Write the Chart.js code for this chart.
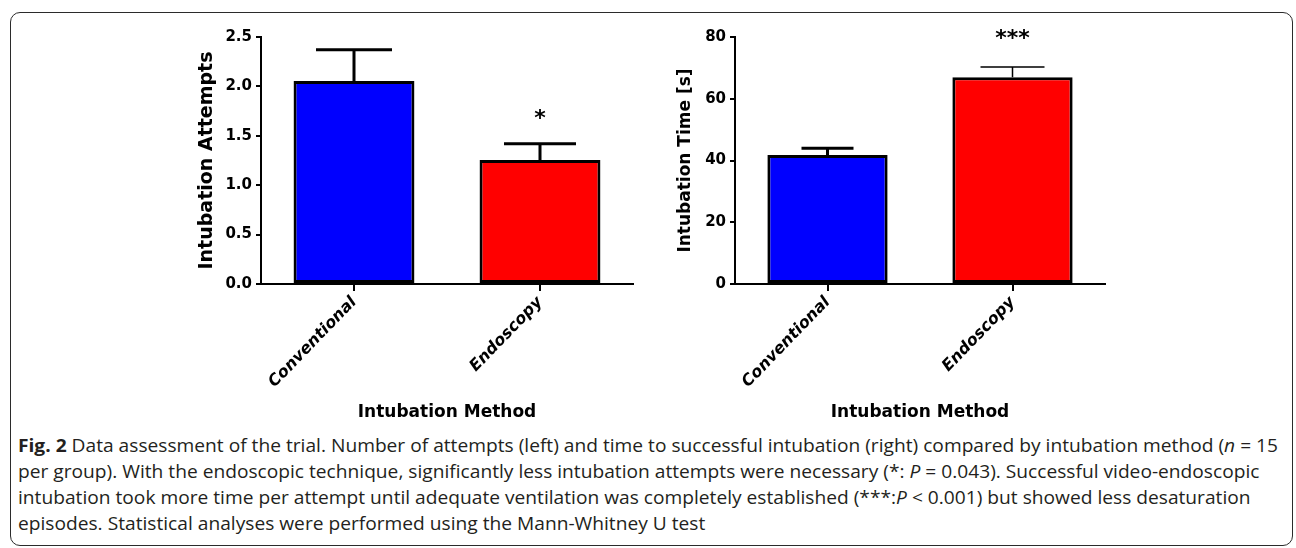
<!DOCTYPE html>
<html lang="en">
<head>
<meta charset="UTF-8">
<script src="https://cdn.jsdelivr.net/npm/chart.js"></script>
<title>Intubation method</title>
<style>
    body { margin: 0; width: 1296px; height: 548px; background: #fff; position: relative; overflow: hidden; }
    .frame { position: absolute; left: 10px; top: 12px; width: 1281px; height: 532px;
             border: 1.5px solid #2b2b2b; border-radius: 10px; }
    .panel { position: absolute; top: 20px; }
    #caption { position: absolute; left: 18px; top: 432px; font-family: 'Open Sans'; font-size: 18px;
               color: #231f20; line-height: 26px; transform-origin: 0 0; white-space: nowrap; }
</style>
</head>
<body>
<div class="frame"></div>
<canvas id="attemptsChart" class="panel" width="452" height="403" style="left:196px"></canvas>
<canvas id="timeChart" class="panel" width="445" height="403" style="left:675px"></canvas>

<div id="caption">
    <div id="capLine1"><b>Fig. 2</b> Data assessment of the trial. Number of attempts (left) and time to successful intubation (right) compared by intubation method (<i>n</i> = 15</div>
    <div>per group). With the endoscopic technique, significantly less intubation attempts were necessary (*: <i>P</i> = 0.043). Successful video-endoscopic</div>
    <div>intubation took more time per attempt until adequate ventilation was completely established (***:<i>P</i> &lt; 0.001) but showed less desaturation</div>
    <div>episodes. Statistical analyses were performed using the Mann-Whitney U test</div>
</div>

<script>
    // data
    const categories = ['Conventional', 'Endoscopy'];
    const attemptsMean = [2.055, 1.255];
    const attemptsSem = [0.315, 0.165];
    const attemptsTicks = [0, 0.5, 1.0, 1.5, 2.0, 2.5];
    const attemptsStars = ['', '*'];

    const timeMean = [41.8, 67.0];
    const timeSem = [2.2, 3.3];
    const timeTicks = [0, 20, 40, 60, 80];
    const timeStars = ['', '***'];

    const barColors = ['#0000ff', '#ff0000'];

    // error bars (upper only) + significance stars
    const errorBars = {
        id: 'errorBars',
        afterDatasetsDraw(chart, args, opts) {
            const ctx = chart.ctx;
            const yScale = chart.scales.y;
            const meta = chart.getDatasetMeta(0);
            ctx.save();
            ctx.strokeStyle = '#000';
            ctx.fillStyle = '#000';
            meta.data.forEach((bar, i) => {
                const top = yScale.getPixelForValue(opts.means[i] + opts.errs[i]);
                ctx.lineWidth = opts.lineWidths[i];
                ctx.beginPath();
                ctx.moveTo(bar.x, bar.y);
                ctx.lineTo(bar.x, top);
                ctx.moveTo(bar.x - opts.capHalf[i], top);
                ctx.lineTo(bar.x + opts.capHalf[i], top);
                ctx.stroke();
                if (opts.stars[i]) {
                    ctx.font = 'bold 22px "DejaVu Sans"';
                    ctx.textAlign = 'center';
                    ctx.textBaseline = 'alphabetic';
                    ctx.fillText(opts.stars[i], bar.x, top - opts.starGap);
                }
            });
            ctx.restore();
        }
    };

    const boldFont = size => ({ family: 'DejaVu Sans', weight: 'bold', size: size });

    function makeChart(id, means, sems, ticks, stars, yTitle, yTitleSize, yWidth, fmt, capHalf, lineWidths, starGap) {
        return new Chart(document.getElementById(id), {
            type: 'bar',
            data: {
                labels: categories,
                datasets: [{
                    data: means,
                    backgroundColor: barColors,
                    borderColor: '#000',
                    borderWidth: 3,
                    borderSkipped: false,
                    barPercentage: 0.65,
                    categoryPercentage: 1
                }]
            },
            options: {
                responsive: false,
                animation: false,
                devicePixelRatio: 1,
                layout: { padding: { top: 17, right: 15, left: 0, bottom: 0 } },
                plugins: {
                    legend: { display: false },
                    tooltip: { enabled: false },
                    errorBars: { means: means, errs: sems, stars: stars, capHalf: capHalf, lineWidths: lineWidths, starGap: starGap }
                },
                scales: {
                    x: {
                        offset: true,
                        grid: { display: true, drawOnChartArea: false, drawTicks: true, tickLength: 7, offset: false, color: '#000', lineWidth: 2 },
                        border: { display: true, color: '#000', width: 2 },
                        ticks: { color: '#000', font: { family: 'DejaVu Sans', weight: 'bold', style: 'italic', size: 16 }, minRotation: 46, maxRotation: 46, padding: 2 },
                        title: { display: true, text: 'Intubation Method', color: '#000', font: boldFont(17), padding: 0 },
                        afterFit: s => { s.height = 139; }
                    },
                    y: {
                        min: 0,
                        max: ticks[ticks.length - 1],
                        afterBuildTicks: s => { s.ticks = ticks.map(v => ({ value: v })); },
                        grid: { drawOnChartArea: false, tickLength: 5, color: '#000', lineWidth: 2 },
                        border: { display: true, color: '#000', width: 2 },
                        ticks: { color: '#000', font: boldFont(15), padding: 4, callback: fmt },
                        title: { display: true, text: yTitle, color: '#000', font: boldFont(yTitleSize), padding: 0 },
                        afterFit: s => { s.width = yWidth; }
                    }
                }
            },
            plugins: [errorBars]
        });
    }

    makeChart('attemptsChart', attemptsMean, attemptsSem, attemptsTicks, attemptsStars,
        'Intubation Attempts', 19, 65, v => Number(v).toFixed(1), [38, 36], [3, 3], 19);
    makeChart('timeChart', timeMean, timeSem, timeTicks, timeStars,
        'Intubation Time [s]', 17, 60, v => String(v), [26, 32], [3, 1.5], 22);

    // squeeze caption to the width of the original
    document.fonts.ready.then(() => {
        const w = document.getElementById('capLine1').getBoundingClientRect().width;
        document.getElementById('caption').style.transform = 'scaleX(' + (1260 / w) + ')';
    });
</script>
</body>
</html>
